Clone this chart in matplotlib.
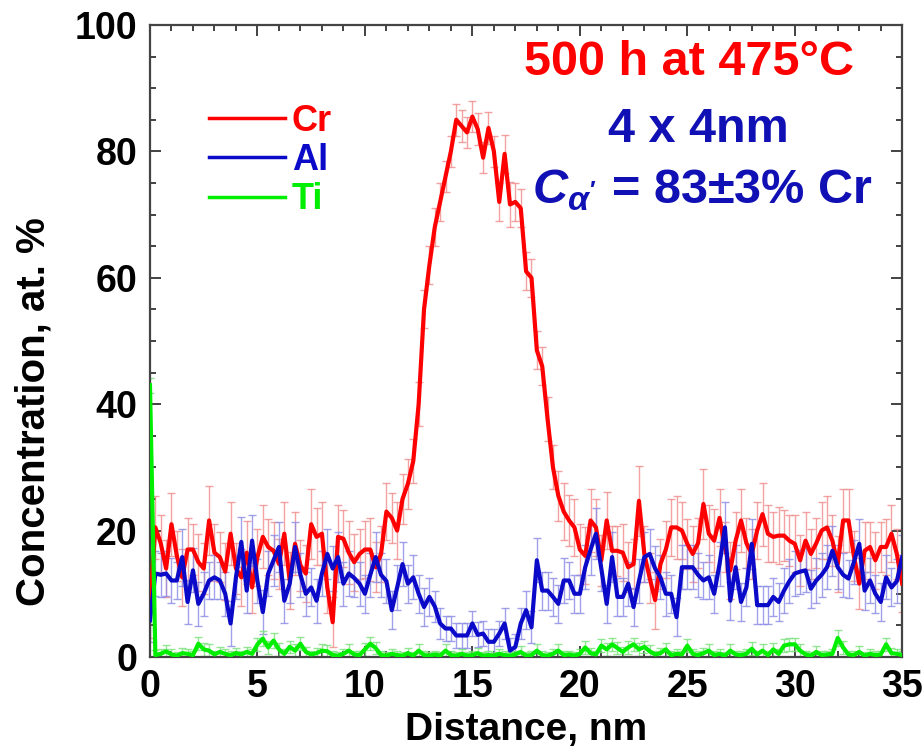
import matplotlib
matplotlib.use("Agg")
import matplotlib.pyplot as plt
import numpy as np

plt.rcParams['font.family'] = ['Liberation Sans', 'DejaVu Sans']
plt.rcParams['font.weight'] = 'bold'
plt.rcParams['mathtext.fontset'] = 'custom'
plt.rcParams['mathtext.it'] = 'Liberation Sans:italic:bold'
plt.rcParams['mathtext.rm'] = 'Liberation Sans:bold'

# distance along the profile, nm (0.25 nm steps)
distance = np.arange(141) * 0.25

# Cr concentration, at.% (4 values per nm)
cr = [8, 20.5, 18, 14,   21, 16, 12.6, 17,   17, 15, 14, 21.6,   16.5, 15.8, 13.5, 19.5,
      14, 12.6, 16.5, 11,   15.8, 19, 17.4, 16.8,   14.7, 19.5, 12.1, 17.9,   14.5, 13.2, 21, 19,
      19.5, 11, 5.5, 19,   18.7, 16.5, 15, 16.3,   17, 17, 14.2, 16.3,   23, 22, 20, 25,
      27.4, 31, 40, 55,   62, 68, 72, 76,   80, 85, 84, 83,   85.5, 83.5, 79, 83.7,
      80, 72, 79.6, 71.6,   72, 71, 61, 60,   48.5, 46, 37.6, 30,   25.5, 23, 21.6, 20.5,
      17, 16, 21.6, 20.5,   15.3, 21.6, 16.8, 16.8,   16.5, 14.2, 14.7, 24.7,   16.3, 12.5, 9, 14.7,
      17, 20.5, 20.5, 20,   17.9, 16.3, 18, 24.2,   19.5, 18.4, 22, 17.4,   13.7, 18.4, 21.6, 18,
      16.3, 20, 22.6, 19.5,   19, 19.2, 19.2, 18.4,   17.9, 15.3, 18.4, 16.3,   18, 20, 20.5, 18.4,
      14.7, 21.6, 21.6, 16,   11.6, 16.8, 17.4, 15.3,   17.4, 17.4, 19.5, 16.3,   11.6]

al = [5.8, 13.2, 13, 13.2,   12.1, 12.1, 15.8, 8.7,   13.7, 8.4, 10, 12.1,   12.6, 12.1, 10, 5.3,
      12.6, 18.2, 10.5, 18.4,   12, 7.1, 13.2, 15.3,   17.4, 8.9, 11.6, 17.4,   13, 10, 11, 8.9,
      13.2, 16.3, 14, 15.8,   11.6, 13.2, 12.5, 11.6,   10, 13, 15.8, 13,   12, 7.4, 11, 14.7,
      11.6, 12.6, 10, 7.9,   9.5, 8, 5.3, 4.5,   4.5, 3.4, 3.4, 3.4,   5.3, 3.5, 3.7, 2.4,
      2.4, 3.7, 5.3, 1,   1.6, 5.3, 7.4, 4.7,   15.3, 10.5, 10.5, 9.5,   8.4, 12.1, 12.1, 10,
      10, 14.2, 17, 19.5,   14, 8.4, 15.8, 9.5,   9.5, 11.6, 7.9, 12,   15.8, 16.3, 14, 12.6,
      10, 10, 6.3, 14.2,   14.2, 14.2, 13, 12.1,   12.6, 10, 14.7, 20.5,   8.9, 14.2, 8.7, 11,
      17.9, 8.2, 8.2, 8.2,   9.5, 8.7, 10.5, 12,   13.2, 13.5, 13.7, 10.8,   12.1, 13, 14.2, 16.8,
      14.2, 13, 12.4, 15,   17.9, 10.5, 12.1, 10,   8.7, 12.6, 11, 12,   15.8]

ti = [43, 0.3, 0.5, 0.9,   0.4, 0.2, 0.6, 0.5,   0.3, 2.1, 1.2, 1,   0.4, 0.8, 0.5, 0.3,
      0.6, 0.4, 0.8, 0.5,   2, 2.9, 1.5, 2.6,   1.2, 0.5, 1.6, 1,   2.1, 0.8, 0.4, 0.6,
      1, 0.9, 0.3, 0.2,   0.5, 1, 0.4, 0.3,   1.2, 2.1, 1.4, 0.3,   0.2, 0.5, 0.3, 0.2,
      0.6, 0.2, 1, 0.3,   0.2, 0.4, 0.2, 1,   0.3, 0.2, 0.5, 0.2,   0.3, 0.6, 0.2, 0.3,
      0.2, 0.5, 0.3, 0.2,   0.4, 0.8, 0.2, 0.3,   1, 0.3, 0.2, 0.5,   1, 0.3, 0.4, 0.2,
      0.5, 1.5, 0.6, 0.4,   1.8, 1.2, 2, 1.4,   0.8, 1.5, 2, 1.2,   1.6, 0.9, 0.4, 0.6,
      1.2, 0.3, 0.5, 0.4,   1.8, 0.5, 0.3, 0.6,   1, 0.3, 0.5, 0.2,   1, 0.4, 0.3, 0.5,
      1.3, 0.4, 1, 0.3,   1.2, 0.5, 1.8, 2,   2, 1, 0.4, 0.2,   0.8, 0.3, 0.4, 0.5,
      3, 1.5, 0.4, 0.3,   0.8, 0.2, 0.5, 0.3,   0.4, 2, 0.6, 0.5,   0.3]

# error bars, at.%
cr_err = [5, 5, 4.5, 4.5,   5, 4, 4.5, 5,   4, 4.5, 4, 5.5,   4.5, 4, 4.5, 5,
          4, 4.5, 5, 4,   4.5, 5, 4.5, 4.5,   4, 5, 4.5, 5,   4, 4.5, 5.5, 4.5,
          5, 4, 4, 5,   4.5, 5, 4.5, 4,   4.5, 5, 4, 4.5,   4.5, 4, 4.5, 4,
          4, 3.5, 3.5, 3,   3, 3, 3, 2.5,   2.5, 2.5, 2.5, 2.5,   2.5, 2.5, 2.5, 2.5,
          2.5, 3, 3, 3.5,   3, 3, 3, 3,   3, 3, 3.5, 3.5,   4, 4.5, 4, 4.5,
          4, 4.5, 5, 4.5,   4, 4.5, 4, 4,   4.5, 4, 4, 5.5,   4.5, 4, 4.5, 4,
          4.5, 4.5, 5, 4.5,   4, 4.5, 4, 5.5,   4.5, 5, 4.5, 4,   4.5, 4.5, 5, 4,
          4, 4.5, 5, 4.5,   4, 4.5, 4, 4,   4.5, 4, 4.5, 4,   4, 4.5, 5, 4,
          4.5, 5, 5, 4,   4, 4.5, 4, 4.5,   4, 4.5, 4.5, 4,   4.5]

al_err = [3.5, 3.5, 3.5, 3.5,   3.5, 3, 4.5, 3.5,   3.5, 3.5, 3.5, 3,   3.5, 3, 3.5, 3.5,
          3.5, 4, 3.5, 4,   3.5, 3.5, 3.5, 4,   4, 3.5, 3, 4,   3.5, 3.5, 3, 3.5,
          3.5, 4, 3.5, 4,   3.5, 3.5, 3, 3.5,   3, 3.5, 4, 3.5,   3.5, 3, 3.5, 3.5,
          3, 3.5, 3, 3,   3, 2.5, 2.5, 2,   2, 2, 2, 2,   2, 2, 2, 2,
          2, 2, 2.5, 2,   2, 2.5, 3, 2.5,   3.5, 3, 3, 3,   3, 3.5, 3, 3,
          3, 3.5, 4, 4,   3.5, 3, 4, 3,   3, 3.5, 3, 3.5,   4, 4, 3.5, 3.5,
          3.5, 3, 3, 3.5,   3.5, 3.5, 3.5, 3,   3.5, 3, 3.5, 4,   3, 3.5, 3, 3,
          4, 3, 3, 3,   3, 3, 3.5, 3.5,   3.5, 3.5, 3.5, 3,   3.5, 3.5, 3.5, 4,
          3.5, 3.5, 3, 3.5,   4, 3, 3.5, 3,   3, 3.5, 3, 3.5,   3.5]

ti_err = [1.2, 0.8, 0.8, 1,   0.8, 0.6, 0.8, 0.8,   0.6, 1, 1, 1,   0.6, 0.8, 0.8, 0.6,
          0.8, 0.6, 0.8, 0.8,   1, 1.2, 1, 1.2,   1, 0.8, 1, 1,   1, 0.8, 0.6, 0.8,
          1, 1, 0.6, 0.6,   0.8, 1, 0.6, 0.6,   1, 1, 1, 0.6,   0.6, 0.8, 0.6, 0.6,
          0.8, 0.6, 1, 0.6,   0.6, 0.6, 0.6, 1,   0.6, 0.6, 0.8, 0.6,   0.6, 0.8, 0.6, 0.6,
          0.6, 0.8, 0.6, 0.6,   0.6, 1, 0.6, 0.6,   1, 0.6, 0.6, 0.8,   1, 0.6, 0.6, 0.6,
          0.8, 1, 0.8, 0.6,   1, 1, 1, 1,   0.8, 1, 1, 1,   1, 1, 0.6, 0.8,
          1, 0.6, 0.8, 0.6,   1, 0.8, 0.6, 0.8,   1, 0.6, 0.8, 0.6,   1, 0.6, 0.6, 0.8,
          1, 0.6, 1, 0.6,   1, 0.8, 1, 1,   1, 1, 0.6, 0.6,   1, 0.6, 0.6, 0.8,
          1.2, 1, 0.6, 0.6,   1, 0.6, 0.8, 0.6,   0.6, 1, 0.8, 0.8,   0.6]

elements = ['Cr', 'Al', 'Ti']
colors = ['#ff0000', '#0a0ac8', '#00ee00']
err_colors = ['#f08a8a', '#8a8ae6', '#7ae07a']

fig = plt.figure(figsize=(9.23, 7.56), dpi=100)
ax = fig.add_axes([0.1625, 0.131, 0.815, 0.836])

series = [(cr, cr_err), (al, al_err), (ti, ti_err)]
for (vals, errs), name, c, ec in zip(series, elements, colors, err_colors):
    ax.errorbar(distance, vals, yerr=errs, fmt='none', ecolor=ec, elinewidth=1,
                capsize=3, capthick=1, alpha=0.8, zorder=2)
    ax.plot(distance, vals, color=c, lw=3, label=name, zorder=3)

ax.set_xlim(0, 35)
ax.set_ylim(0, 100)
ax.set_xticks(np.arange(0, 36, 5))
ax.set_xticks(np.arange(0, 36, 1), minor=True)
ax.set_yticks(np.arange(0, 101, 20))
ax.set_yticks(np.arange(0, 101, 5), minor=True)
ax.tick_params(which='both', direction='in', top=True, right=True, labelsize=27, width=1.2,
               color='#222222', pad=9)
ax.tick_params(which='major', length=8)
ax.tick_params(which='minor', length=4.5)
for s in ax.spines.values():
    s.set_linewidth(1.6)
    s.set_color('#444444')

ax.set_xlabel('Distance, nm', fontsize=28, fontweight='bold', labelpad=5)
ax.set_ylabel('Concentration, at. %', fontsize=29, fontweight='bold')
ax.yaxis.set_label_coords(-0.13, 0.388)

leg = ax.legend(loc='upper left', bbox_to_anchor=(0.035, 0.927), frameon=False, fontsize=26,
                handlelength=2.1, handletextpad=0.2, labelspacing=0.12, labelcolor='linecolor')
for line in leg.get_lines():
    line.set_linewidth(2.5)

ax.text(0.717, 0.941, '500 h at 475°C', transform=ax.transAxes, ha='center', va='center',
        fontsize=35, fontweight='bold', color='#ff0000')
ax.text(0.729, 0.834, '4 x 4nm', transform=ax.transAxes, ha='center', va='center',
        fontsize=35, fontweight='bold', color='#1010b4')
ax.text(0.735, 0.739, r"$C_{\alpha'}$ = 83±3% Cr", transform=ax.transAxes, ha='center', va='center',
        fontsize=35, fontweight='bold', color='#1010b4')

fig.savefig('out.png', dpi=100)
